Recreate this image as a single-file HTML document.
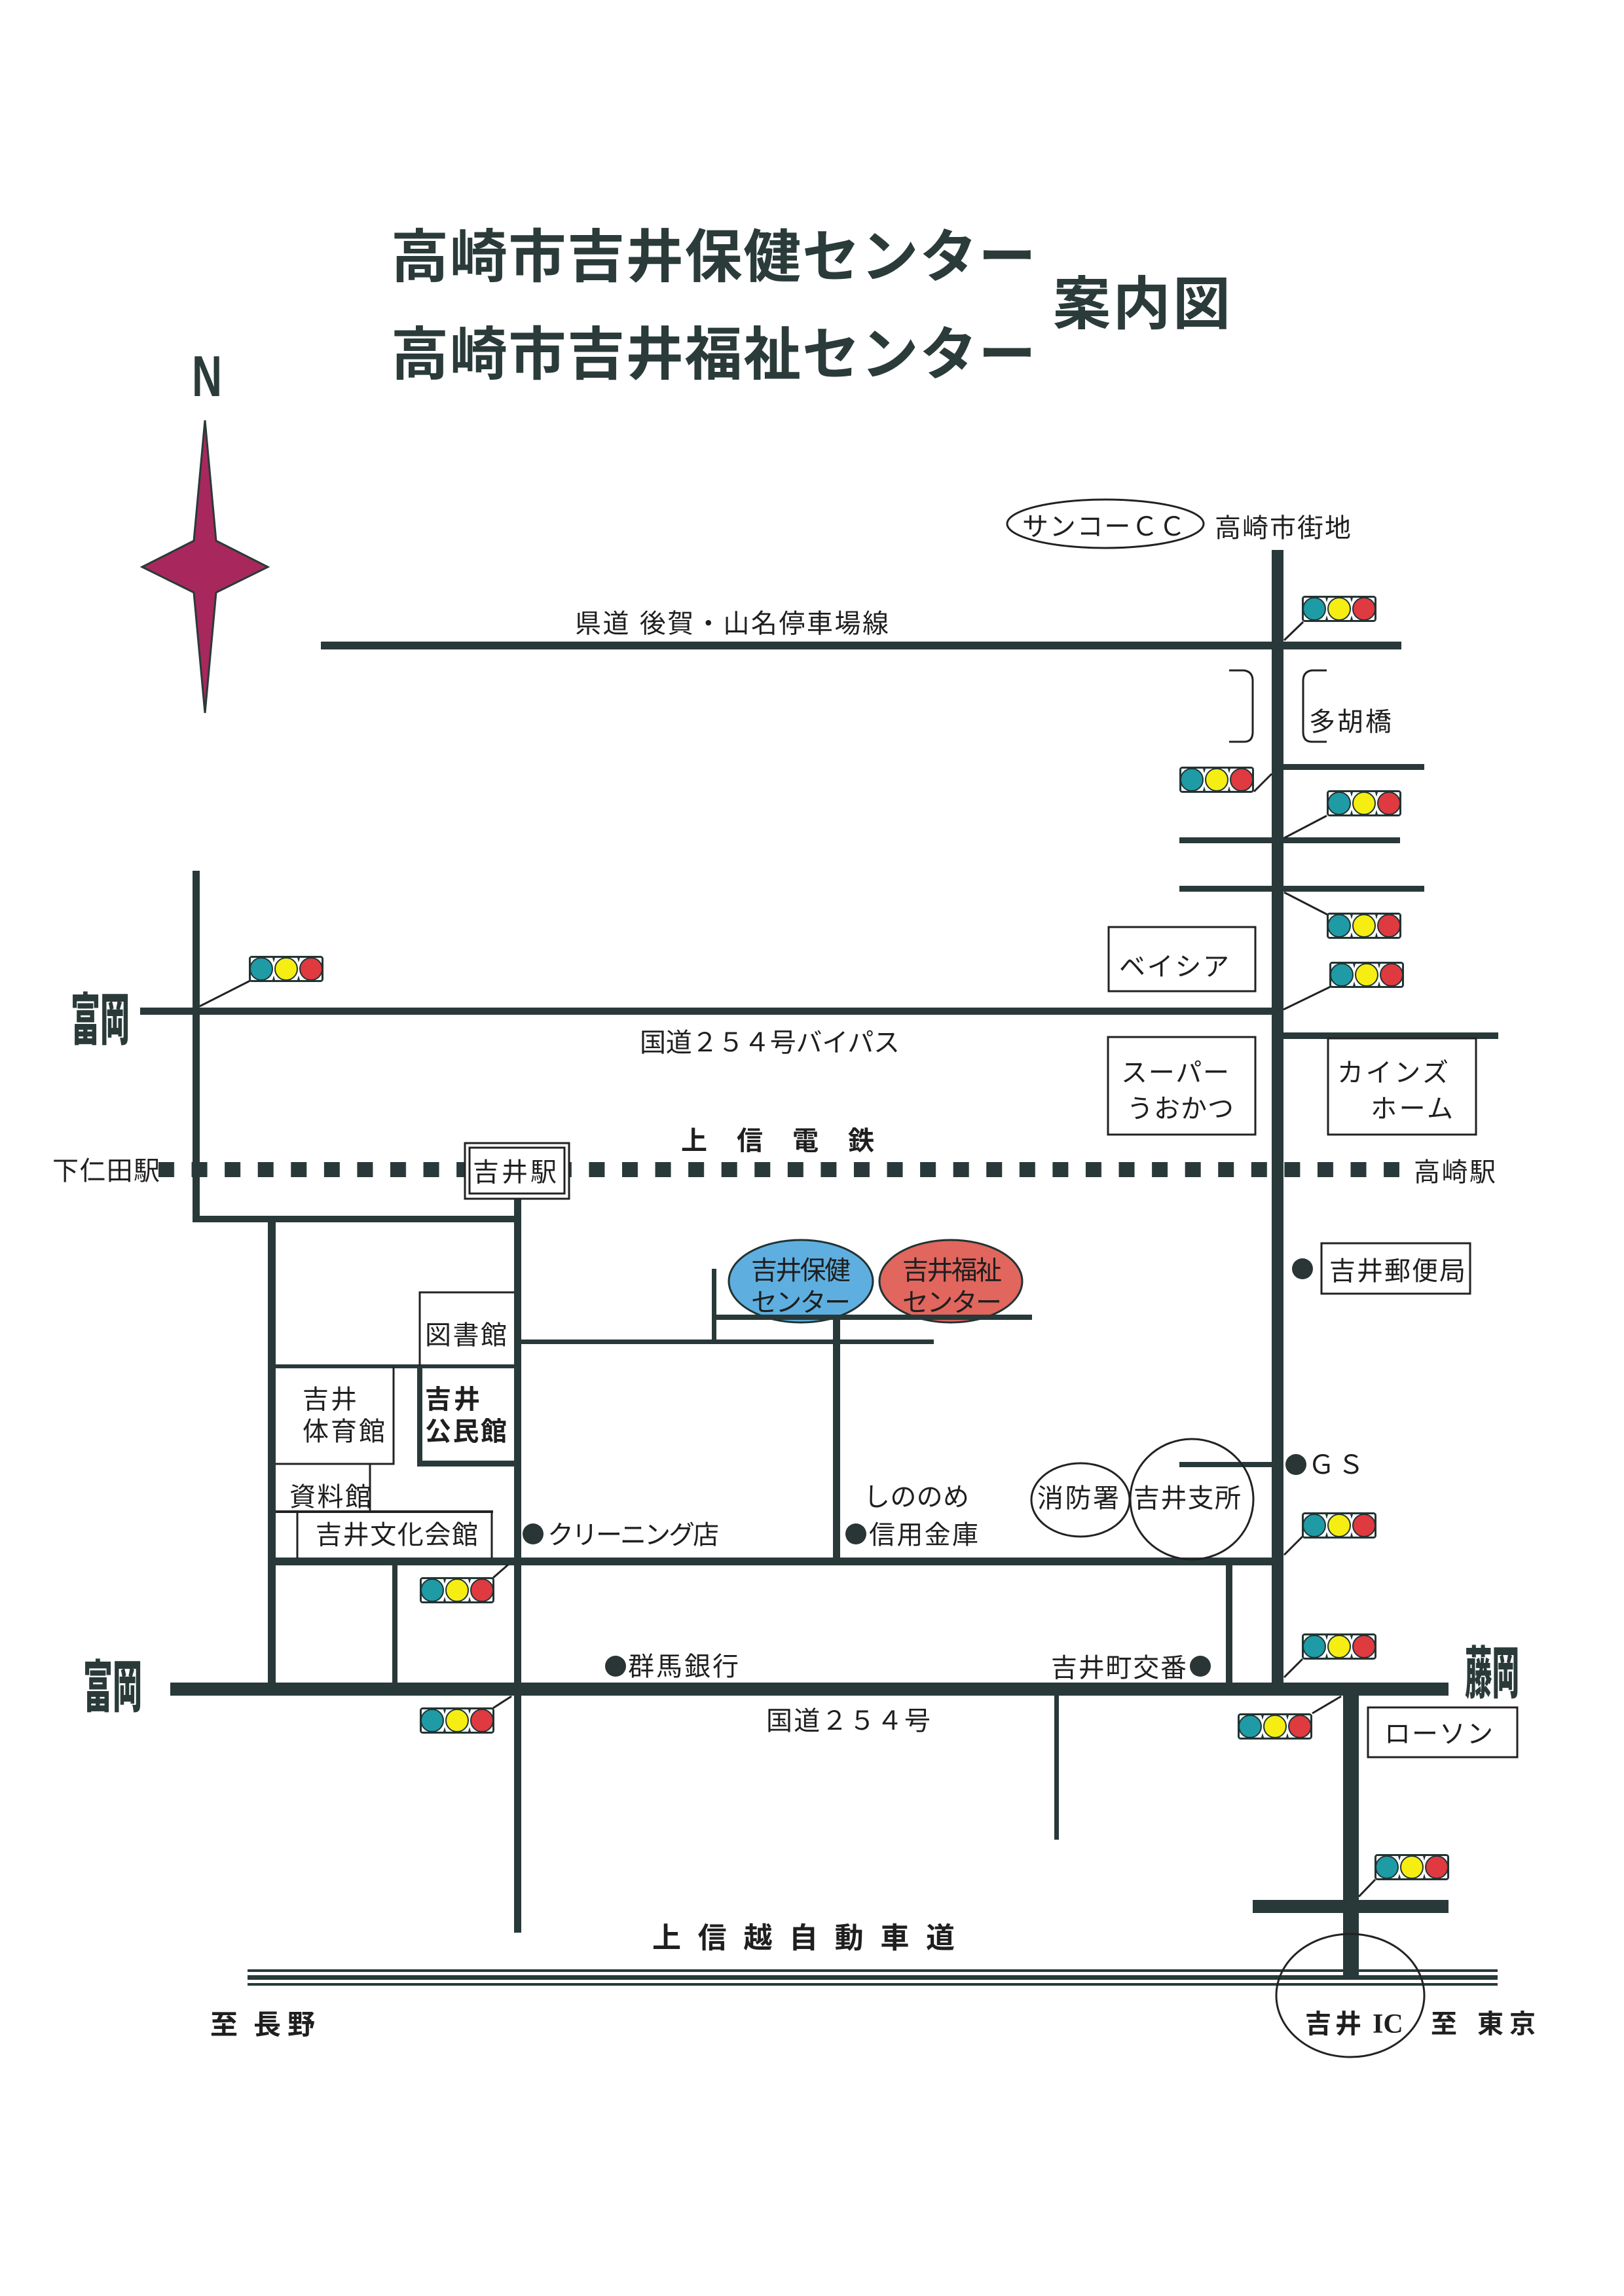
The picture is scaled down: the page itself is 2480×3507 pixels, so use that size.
<!DOCTYPE html>
<html lang="ja">
<head>
<meta charset="utf-8">
<style>
  html,body{margin:0;padding:0;background:#fff;}
  svg{display:block;}
  .t{font-family:"Liberation Sans","Noto Sans CJK JP",sans-serif;font-size:40px;fill:#1f1f1f;}
  .b{font-family:"Liberation Sans","Noto Sans CJK JP",sans-serif;font-weight:700;fill:#1f1f1f;}
  .ttl{font-family:"Liberation Sans","Noto Sans CJK JP",sans-serif;font-weight:700;font-size:88px;fill:#2a3b39;}
  .cond{font-family:"Noto Sans CJK JP",sans-serif;font-weight:900;font-size:86px;fill:#2a3a38;}
</style>
</head>
<body>
<svg xmlns="http://www.w3.org/2000/svg" width="2480" height="3507" viewBox="0 0 2480 3507">
<defs>
  <symbol id="tl" viewBox="0 0 114 40" width="114" height="40">
    <rect x="1.5" y="1.5" width="111" height="37" rx="3" fill="#fff" stroke="#233" stroke-width="3"/>
    <polygon points="36,3 40,3 38,10" fill="#233"/><polygon points="36,37 40,37 38,30" fill="#233"/>
    <polygon points="74,3 78,3 76,10" fill="#233"/><polygon points="74,37 78,37 76,30" fill="#233"/>
    <ellipse cx="19" cy="20" rx="17" ry="17" fill="#1f9ba6" stroke="#233" stroke-width="2"/>
    <ellipse cx="57" cy="20" rx="17" ry="17" fill="#f6ee12" stroke="#233" stroke-width="2"/>
    <ellipse cx="95" cy="20" rx="17" ry="17" fill="#df3a40" stroke="#233" stroke-width="2"/>
  </symbol>
  <pattern id="rail" x="242" y="1775" width="50.57" height="23" patternUnits="userSpaceOnUse">
    <rect x="0" y="0" width="24" height="23" fill="#29393a"/>
  </pattern>
</defs>

<rect width="2480" height="3507" fill="#fff"/>

<!-- Title -->
<text class="ttl" x="597" y="423" textLength="985" lengthAdjust="spacing">高崎市吉井保健センター</text>
<text class="ttl" x="597" y="572" textLength="985" lengthAdjust="spacing">高崎市吉井福祉センター</text>
<text class="ttl" x="1608" y="495" textLength="271" lengthAdjust="spacing">案内図</text>

<!-- North -->
<text x="293" y="605" font-family="Liberation Sans, sans-serif" font-weight="bold" font-size="88" fill="#2a3b39" textLength="46" lengthAdjust="spacingAndGlyphs">N</text>
<polygon points="313,642 330,826 409,866 330,905 313,1089 296,905 217,866 296,826" fill="#a8285e" stroke="#2a3a37" stroke-width="3" stroke-linejoin="miter"/>

<!-- Roads -->
<g fill="#29393a">
  <rect x="490" y="980" width="1650" height="12"/>
  <rect x="1942" y="840" width="18" height="1750"/>
  <rect x="1960" y="1167" width="215" height="9"/>
  <rect x="1801" y="1279" width="337" height="9"/>
  <rect x="1801" y="1353" width="374" height="9"/>
  <rect x="214" y="1539" width="1730" height="11"/>
  <rect x="1960" y="1577" width="328" height="10"/>
  <rect x="294" y="1330" width="11" height="537"/>
  <rect x="294" y="1857" width="502" height="10"/>
  <rect x="785" y="1831" width="11" height="1121"/>
  <rect x="409" y="1857" width="12" height="733"/>
  <rect x="409" y="2084" width="376" height="6"/>
  <rect x="796" y="2046" width="630" height="7"/>
  <rect x="1087" y="1938" width="7" height="110"/>
  <rect x="1272" y="2008" width="11" height="381"/>
  <rect x="409" y="2379" width="1551" height="12"/>
  <rect x="599" y="2389" width="8" height="190"/>
  <rect x="1801" y="2233" width="141" height="8"/>
  <rect x="1872" y="2389" width="10" height="183"/>
  <rect x="260" y="2570" width="1952" height="20"/>
  <rect x="1610" y="2588" width="7" height="222"/>
  <rect x="2051" y="2588" width="24" height="430"/>
  <rect x="1913" y="2902" width="299" height="20"/>
  <rect x="378" y="3008" width="1909" height="4"/>
  <rect x="378" y="3017" width="1909" height="7"/>
  <rect x="378" y="3029" width="1909" height="4"/>
</g>

<!-- Rail -->
<rect x="242" y="1775" width="1895" height="23" fill="url(#rail)"/>

<!-- Station box -->
<rect x="710" y="1746" width="159" height="85" fill="#fff" stroke="#222" stroke-width="3"/>
<rect x="717" y="1753" width="145" height="70" fill="none" stroke="#222" stroke-width="3"/>

<!-- Buildings / boxes -->
<g fill="none" stroke="#222" stroke-width="3">
  <rect x="1693" y="1416" width="224" height="98"/>
  <rect x="1692" y="1584" width="225" height="149"/>
  <rect x="2028" y="1586" width="226" height="147"/>
  <rect x="2018" y="1899" width="227" height="77"/>
  <rect x="2089" y="2608" width="228" height="76"/>
  <path d="M641,2087 L641,1974 L785,1974"/>
  <path d="M601,2087 L601,2236 L421,2236"/>
  <path d="M565,2236 L565,2309"/>
  <path d="M454,2309 L454,2380 M751,2309 L751,2380"/>
  <ellipse cx="1688" cy="800" rx="150" ry="37"/>
  <ellipse cx="1650" cy="2291" rx="75" ry="56"/>
  <ellipse cx="1820" cy="2290" rx="94" ry="92"/>
  <ellipse cx="2062" cy="3048" rx="113" ry="94"/>
  <path d="M1877,1024 L1900,1024 Q1913,1026 1913,1040 L1913,1118 Q1913,1133 1900,1133 L1877,1133"/>
  <path d="M2026,1024 L2003,1024 Q1990,1026 1990,1040 L1990,1118 Q1990,1133 2003,1133 L2026,1133"/>
</g>
<rect x="421" y="2307" width="332" height="4" fill="#222"/>
<rect x="637" y="2087" width="8" height="153" fill="#29393a"/>
<rect x="637" y="2231" width="148" height="9" fill="#29393a"/>

<!-- Centers -->
<ellipse cx="1223" cy="1957" rx="110" ry="63" fill="#5eafe0" stroke="#233" stroke-width="3"/>
<ellipse cx="1452" cy="1957" rx="109" ry="63" fill="#e0665e" stroke="#233" stroke-width="3"/>
<rect x="1092" y="2008" width="484" height="8" fill="#29393a"/>

<!-- Dots -->
<g fill="#2a3535">
  <circle cx="1989" cy="1938" r="16"/>
  <circle cx="1979" cy="2237" r="16"/>
  <circle cx="814" cy="2343" r="16"/>
  <circle cx="1307" cy="2343" r="16"/>
  <circle cx="940" cy="2545" r="16"/>
  <circle cx="1833" cy="2545" r="16"/>
</g>

<!-- Traffic lights + connectors -->
<g stroke="#222" stroke-width="3">
  <line x1="1961" y1="978" x2="1990" y2="950"/>
  <line x1="1915" y1="1209" x2="1942" y2="1182"/>
  <line x1="2026" y1="1246" x2="1961" y2="1280"/>
  <line x1="1961" y1="1363" x2="2027" y2="1397"/>
  <line x1="2032" y1="1507" x2="1960" y2="1542"/>
  <line x1="382" y1="1498" x2="305" y2="1537"/>
  <line x1="753" y1="2410" x2="776" y2="2390"/>
  <line x1="1989" y1="2347" x2="1961" y2="2375"/>
  <line x1="1989" y1="2534" x2="1961" y2="2562"/>
  <line x1="2004" y1="2617" x2="2048" y2="2591"/>
  <line x1="2100" y1="2871" x2="2075" y2="2897"/>
  <line x1="753" y1="2609" x2="781" y2="2591"/>
</g>
<use href="#tl" x="1988" y="910"/>
<use href="#tl" x="1801" y="1171"/>
<use href="#tl" x="2026" y="1207"/>
<use href="#tl" x="2026" y="1394"/>
<use href="#tl" x="2030" y="1469"/>
<use href="#tl" x="380" y="1460"/>
<use href="#tl" x="641" y="2409"/>
<use href="#tl" x="1988" y="2310"/>
<use href="#tl" x="1988" y="2495"/>
<use href="#tl" x="1890" y="2617"/>
<use href="#tl" x="2099" y="2832"/>
<use href="#tl" x="641" y="2608"/>

<!-- Labels -->
<text class="t" x="1561" y="818" textLength="249" lengthAdjust="spacing">サンコーＣＣ</text>
<text class="t" x="1855" y="820" font-size="41" textLength="208" lengthAdjust="spacing">高崎市街地</text>
<text class="t" x="878" y="966" textLength="479" lengthAdjust="spacing">県道 後賀・山名停車場線</text>
<text class="t" x="1999" y="1116" textLength="126" lengthAdjust="spacing">多胡橋</text>
<text class="t" x="1709" y="1490" textLength="168" lengthAdjust="spacing">ベイシア</text>
<text class="t" x="1712" y="1652" textLength="165" lengthAdjust="spacing">スーパー</text>
<text class="t" x="1721" y="1707" textLength="163" lengthAdjust="spacing">うおかつ</text>
<text class="t" x="2042" y="1652" textLength="170" lengthAdjust="spacing">カインズ</text>
<text class="t" x="2093" y="1707" textLength="126" lengthAdjust="spacing">ホーム</text>
<text class="t" x="977" y="1606" textLength="397" lengthAdjust="spacing">国道２５４号バイパス</text>
<text class="b" x="1040" y="1756" font-size="40" textLength="295" lengthAdjust="spacing">上信電鉄</text>
<text class="t" x="80" y="1802" textLength="164" lengthAdjust="spacing">下仁田駅</text>
<text class="t" x="722" y="1804" textLength="128" lengthAdjust="spacing">吉井駅</text>
<text class="t" x="2159" y="1804" textLength="125" lengthAdjust="spacing">高崎駅</text>
<text class="t" x="2030" y="1955" font-size="42" textLength="208" lengthAdjust="spacing">吉井郵便局</text>

<text class="t" x="1147" y="1954" font-size="37" fill="#2a3540" textLength="152" lengthAdjust="spacing">吉井保健</text>
<text class="t" x="1147" y="2003" font-size="37" fill="#2a3540" textLength="152" lengthAdjust="spacing">センター</text>
<text class="t" x="1378" y="1954" font-size="37" fill="#3a2a2a" textLength="152" lengthAdjust="spacing">吉井福祉</text>
<text class="t" x="1378" y="2003" font-size="37" fill="#3a2a2a" textLength="152" lengthAdjust="spacing">センター</text>

<text class="t" x="649" y="2053" textLength="125" lengthAdjust="spacing">図書館</text>
<text class="t" x="462" y="2151" textLength="83" lengthAdjust="spacing">吉井</text>
<text class="t" x="462" y="2200" textLength="126" lengthAdjust="spacing">体育館</text>
<text class="b" x="649" y="2151" font-size="40" textLength="84" lengthAdjust="spacing">吉井</text>
<text class="b" x="649" y="2200" font-size="40" textLength="125" lengthAdjust="spacing">公民館</text>
<text class="t" x="442" y="2300" textLength="125" lengthAdjust="spacing">資料館</text>
<text class="t" x="482" y="2358" textLength="248" lengthAdjust="spacing">吉井文化会館</text>
<text class="t" x="836" y="2358" textLength="262" lengthAdjust="spacing">クリーニング店</text>
<text class="t" x="1319" y="2300" textLength="161" lengthAdjust="spacing">しののめ</text>
<text class="t" x="1327" y="2358" textLength="167" lengthAdjust="spacing">信用金庫</text>
<text class="t" x="1584" y="2302" textLength="125" lengthAdjust="spacing">消防署</text>
<text class="t" x="1731" y="2302" textLength="164" lengthAdjust="spacing">吉井支所</text>
<text class="t" x="1998" y="2251" font-size="42" textLength="85" lengthAdjust="spacing">ＧＳ</text>
<text class="t" x="1605" y="2561" textLength="207" lengthAdjust="spacing">吉井町交番</text>
<text class="t" x="959" y="2559" textLength="169" lengthAdjust="spacing">群馬銀行</text>
<text class="t" x="1170" y="2642" textLength="251" lengthAdjust="spacing">国道２５４号</text>
<text class="t" x="2114" y="2662" textLength="166" lengthAdjust="spacing">ローソン</text>

<text class="cond" x="108" y="1588" textLength="90" lengthAdjust="spacingAndGlyphs">富岡</text>
<text class="cond" x="127" y="2607" textLength="90" lengthAdjust="spacingAndGlyphs">富岡</text>
<text class="cond" x="2237" y="2586" textLength="83" lengthAdjust="spacingAndGlyphs">藤岡</text>

<text class="b" x="996" y="2975" font-size="44" textLength="462" lengthAdjust="spacing">上信越自動車道</text>
<text class="b" x="321" y="3107" font-size="42">至</text>
<text class="b" x="387" y="3107" font-size="42" textLength="94" lengthAdjust="spacing">長野</text>
<text class="b" x="1993" y="3105" font-size="40" textLength="86" lengthAdjust="spacing">吉井</text>
<text x="2096" y="3105" font-family="Liberation Serif, serif" font-weight="bold" font-size="42" fill="#1f1f1f">IC</text>
<text class="b" x="2185" y="3105" font-size="40">至</text>
<text class="b" x="2256" y="3105" font-size="40" textLength="89" lengthAdjust="spacing">東京</text>
</svg>
</body>
</html>
